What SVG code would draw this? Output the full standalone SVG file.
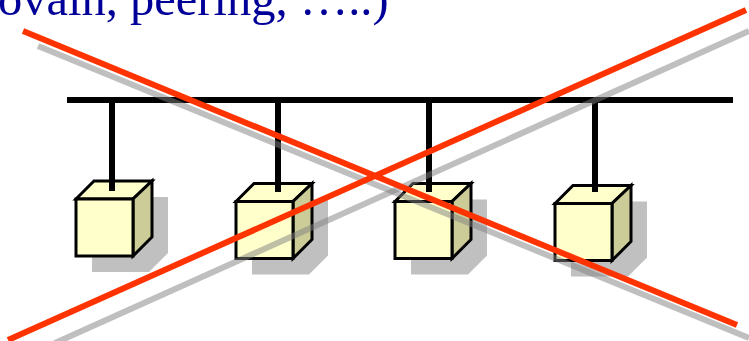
<svg xmlns="http://www.w3.org/2000/svg" width="749" height="341" viewBox="0 0 749 341">
<defs>
<style>
.title{font-family:"Liberation Serif","Times New Roman",serif;font-size:48.500px;fill:#000099}
.wire{stroke:#000;stroke-width:6;fill:none}
.front{fill:#ffffcc}
.top{fill:#ffffcc}
.side{fill:#cccc99}
.edge{stroke:#000;stroke-width:3;stroke-linejoin:miter}
.cast{fill:#c0c0c0}
.xshadow{stroke:#808080;stroke-opacity:.5;stroke-width:6;fill:none}
.xred{stroke:#ff3300;stroke-width:6;fill:none}
</style>
<g id="cube">
<polygon class="cast" points="16,34 34,16 92,16 92,72 73,91 16,91"/>
<polygon class="top edge" points="0,18 18,0 76,0 57,18"/>
<polygon class="side edge" points="76,0 76,56 57,75 57,18"/>
<rect class="front edge" x="0" y="18" width="57" height="57"/>
</g>
</defs>
<rect width="749" height="341" fill="#fff"/>
<text class="title" x="-2" y="14.500" id="title">ovain, peering, …..)</text>
<g id="node-1"><use href="#cube" x="76" y="181"/></g>
<g id="node-2"><use href="#cube" x="236" y="183.500"/></g>
<g id="node-3"><use href="#cube" x="395" y="183.500"/></g>
<g id="node-4"><use href="#cube" x="555" y="185.500"/></g>
<g id="connectors">
<path class="wire" d="M67 100H733M112 100V191M278 100V192M429 100V192M595 100V192"/>
</g>
<g id="cross">
<line class="xshadow" x1="38" y1="46" x2="749" y2="338"/>
<line class="xshadow" x1="55" y1="343" x2="749" y2="31"/>
<line class="xred" x1="23" y1="31" x2="737" y2="325"/>
<line class="xred" x1="8" y1="340" x2="746" y2="10"/>
</g>
</svg>
